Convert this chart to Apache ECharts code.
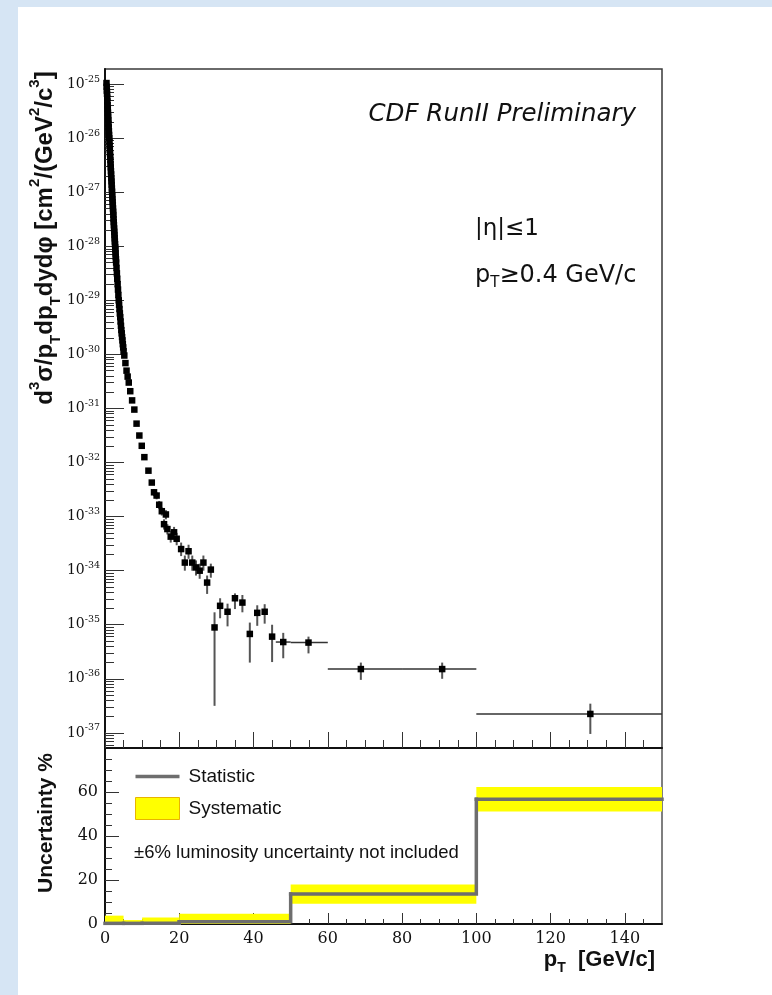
<!DOCTYPE html>
<html>
<head>
<meta charset="utf-8">
<script src="https://cdn.jsdelivr.net/npm/echarts@6/dist/echarts.min.js"></script>
<style>
  html, body { margin: 0; padding: 0; background: #d6e5f4; }
  #sheet { position: absolute; left: 18px; top: 7px; right: 0; bottom: 0; background: #ffffff; }
  #chart { position: absolute; left: 0; top: 0; width: 772px; height: 995px; }
</style>
</head>
<body>
<div id="sheet"></div>
<div id="chart"></div>
<script>
// ---- Invariant cross section, |eta| <= 1 : dense low-pT points (log10 of cm^2/(GeV^2/c^3)) ----
const lowPt = [
  0.40, 0.45, 0.50, 0.55, 0.60, 0.65, 0.70, 0.75, 0.80, 0.85, 0.90, 0.95,
  1.00, 1.05, 1.10, 1.15, 1.20, 1.25, 1.30, 1.35, 1.40, 1.45, 1.50, 1.55,
  1.60, 1.65, 1.70, 1.75, 1.80, 1.85, 1.90, 1.95, 2.00, 2.05, 2.10, 2.15,
  2.20, 2.25, 2.30, 2.35, 2.40, 2.45, 2.50, 2.55, 2.60, 2.65, 2.70, 2.75,
  2.80, 2.85, 2.90, 2.95, 3.00,
  3.1, 3.2, 3.3, 3.4, 3.5, 3.6, 3.7, 3.8, 3.9, 4.0,
  4.1, 4.2, 4.3, 4.4, 4.5, 4.6, 4.7, 4.8, 4.9, 5.0,
  5.2, 5.5, 5.8, 6.1, 6.4, 6.8, 7.3, 7.9, 8.5, 9.25, 9.9, 10.6, 11.7, 12.6
];
const lowPtLogXsec = [
  -24.98, -25.05, -25.12, -25.18, -25.25, -25.32, -25.39, -25.46, -25.53, -25.60, -25.66, -25.73,
  -25.80, -25.87, -25.94, -26.00, -26.07, -26.14, -26.21, -26.28, -26.34, -26.41, -26.48, -26.54,
  -26.61, -26.67, -26.74, -26.80, -26.86, -26.93, -26.99, -27.06, -27.12, -27.18, -27.24, -27.30,
  -27.36, -27.42, -27.49, -27.55, -27.61, -27.67, -27.73, -27.79, -27.85, -27.91, -27.96, -28.02,
  -28.07, -28.13, -28.19, -28.24, -28.30,
  -28.40, -28.50, -28.60, -28.70, -28.80, -28.90, -29.00, -29.08, -29.16, -29.24,
  -29.31, -29.39, -29.47, -29.55, -29.61, -29.68, -29.74, -29.81, -29.87, -29.94,
  -30.02, -30.16, -30.30, -30.41, -30.52, -30.68, -30.85, -31.02, -31.28, -31.50, -31.69, -31.90, -32.15, -32.37
];

// ---- Higher-pT points with statistical error bars ----
const highPt = [
  13.2, 13.9, 14.6, 15.3, 15.9, 16.4, 16.8, 17.7, 18.6, 19.3,
  20.5, 21.5, 22.5, 23.5, 24.5, 25.5, 26.5, 27.5, 28.5, 29.5,
  31, 33, 35, 37, 39, 41, 43, 45,
  48, 54.8, 68.9, 90.8, 130.7
];
const highPtLogXsec = [
  -32.55, -32.61, -32.78, -32.90, -33.14, -32.96, -33.23, -33.37, -33.29, -33.41,
  -33.60, -33.85, -33.64, -33.85, -33.94, -34.00, -33.85, -34.22, -33.98, -35.05,
  -34.65, -34.76, -34.51, -34.59, -35.17, -34.78, -34.76, -35.22,
  -35.32, -35.33, -35.82, -35.82, -36.65
];
const highPtLogErrHi = [
  -32.49, -32.55, -32.71, -32.83, -33.05, -32.88, -33.14, -33.27, -33.19, -33.30,
  -33.48, -33.72, -33.52, -33.72, -33.81, -33.87, -33.72, -34.09, -33.87, -34.77,
  -34.51, -34.61, -34.42, -34.45, -34.96, -34.64, -34.62, -35.00,
  -35.15, -35.22, -35.70, -35.70, -36.46
];
const highPtLogErrLo = [
  -32.62, -32.68, -32.86, -32.98, -33.24, -33.05, -33.33, -33.48, -33.40, -33.53,
  -33.73, -34.00, -33.78, -34.00, -34.09, -34.15, -34.00, -34.43, -34.13, -36.50,
  -34.88, -35.03, -34.71, -34.77, -35.70, -35.02, -34.98, -35.69,
  -35.62, -35.53, -36.02, -36.00, -37.02
];
const highPtBinLo = [
  null, null, null, null, null, null, null, null, null, null,
  null, null, null, null, null, null, null, null, null, null,
  null, null, null, null, null, null, null, null,
  46, 50, 60, 80, 100
];
const highPtBinHi = [
  null, null, null, null, null, null, null, null, null, null,
  null, null, null, null, null, null, null, null, null, null,
  null, null, null, null, null, null, null, null,
  50, 60, 80, 100, 150
];

// ---- Uncertainty panel (percent) ----
const uncBinEdges = [0, 5, 10, 20, 50, 100, 150];
const statUnc = [0.3, 0.3, 0.3, 1.0, 13.6, 56.7];
const sysUnc  = [3.5, 1.5, 2.6, 3.7, 4.4, 5.6];

// ---- Tick definitions ----
const ptMajorTicks = [0, 20, 40, 60, 80, 100, 120, 140];
const ptMinorTicks = [5, 10, 15, 25, 30, 35, 45, 50, 55, 65, 70, 75, 85, 90, 95,
                      105, 110, 115, 125, 130, 135, 145];
const xsecDecades = [-37, -36, -35, -34, -33, -32, -31, -30, -29, -28, -27, -26, -25];
const uncMajorTicks = [0, 20, 40, 60];
const uncMinorTicks = [5, 10, 15, 25, 30, 35, 45, 50, 55, 65, 70, 75];

const LOG_MIN = -37.28, LOG_MAX = -24.72;

// sub-decade ticks at 2..9 x 10^n
const xsecMinorTicks = [];
for (let n = -38; n <= -25; n++) {
  for (let k = 2; k <= 9; k++) {
    const v = n + Math.log10(k);
    if (v > LOG_MIN && v < LOG_MAX) xsecMinorTicks.push(v);
  }
}

const pointData = lowPt.map((p, i) => [p, lowPtLogXsec[i]])
  .concat(highPt.map((p, i) => [p, highPtLogXsec[i]]));
const errData = highPt.map((p, i) => [
  p, highPtLogXsec[i], highPtLogErrLo[i], highPtLogErrHi[i],
  highPtBinLo[i] === null ? '-' : highPtBinLo[i],
  highPtBinHi[i] === null ? '-' : highPtBinHi[i]
]);
const sysData = statUnc.map((s, i) => [uncBinEdges[i], uncBinEdges[i + 1], s, sysUnc[i]]);
const statData = statUnc.map((s, i) => [
  uncBinEdges[i], uncBinEdges[i + 1], s, i + 1 < statUnc.length ? statUnc[i + 1] : s
]);

const INK = '#111';
const STAT_GREY = '#6e6e6e';
const TICK = { color: '#333', width: 1 };
const serif = 'DejaVu Serif';
const sans = 'Liberation Sans';

function tickAxis(opts) {
  return Object.assign({
    type: 'value',
    splitLine: { show: false },
    axisLine: { show: false },
    axisLabel: { show: false },
    axisTick: { show: false }
  }, opts);
}

const chart = echarts.init(document.getElementById('chart'), null, { width: 772, height: 995 });

chart.setOption({
  animation: false,
  backgroundColor: 'transparent',
  grid: [
    { left: 105, top: 69, width: 557, height: 679, show: true, borderColor: '#3a3a3a', borderWidth: 1.5, backgroundColor: 'transparent' },
    { left: 105, top: 748, width: 557, height: 176, show: true, borderColor: '#555', borderWidth: 1.5, backgroundColor: 'transparent' }
  ],
  xAxis: [
    tickAxis({ gridIndex: 0, position: 'bottom', min: 0, max: 150,
      axisLine: { show: true, onZero: false, lineStyle: { color: INK, width: 2 } },
      axisTick: { show: true, inside: true, length: 16, customValues: ptMajorTicks, lineStyle: TICK } }),
    tickAxis({ gridIndex: 0, position: 'bottom', min: 0, max: 150,
      axisTick: { show: true, inside: true, length: 8, customValues: ptMinorTicks, lineStyle: TICK } }),
    tickAxis({ gridIndex: 1, position: 'bottom', min: 0, max: 150,
      axisLine: { show: true, onZero: false, lineStyle: { color: INK, width: 2 } },
      axisTick: { show: true, inside: true, length: 11, customValues: ptMajorTicks, lineStyle: TICK },
      axisLabel: { show: true, customValues: ptMajorTicks, margin: 7, fontFamily: serif, fontSize: 16, color: INK } }),
    tickAxis({ gridIndex: 1, position: 'bottom', min: 0, max: 150,
      axisTick: { show: true, inside: true, length: 5, customValues: ptMinorTicks, lineStyle: TICK } })
  ],
  yAxis: [
    tickAxis({ gridIndex: 0, position: 'left', min: LOG_MIN, max: LOG_MAX,
      axisLine: { show: true, onZero: false, lineStyle: { color: INK, width: 2 } },
      axisTick: { show: true, inside: true, length: 19, customValues: xsecDecades, lineStyle: TICK },
      axisLabel: { show: true, customValues: xsecDecades, margin: 5,
        formatter: v => '{b|10}{e|' + Math.round(v) + '}',
        rich: {
          b: { fontFamily: serif, fontSize: 14, color: INK, lineHeight: 20, verticalAlign: 'middle' },
          e: { fontFamily: serif, fontSize: 9.5, color: INK, lineHeight: 10, verticalAlign: 'top' }
        } } }),
    tickAxis({ gridIndex: 0, position: 'left', min: LOG_MIN, max: LOG_MAX,
      axisTick: { show: true, inside: true, length: 9, customValues: xsecMinorTicks, lineStyle: TICK } }),
    tickAxis({ gridIndex: 1, position: 'left', min: 0, max: 80,
      axisLine: { show: true, onZero: false, lineStyle: { color: INK, width: 2 } },
      axisTick: { show: true, inside: true, length: 14, customValues: uncMajorTicks, lineStyle: TICK },
      axisLabel: { show: true, customValues: uncMajorTicks, margin: 7, fontFamily: serif, fontSize: 16, color: INK } }),
    tickAxis({ gridIndex: 1, position: 'left', min: 0, max: 80,
      axisTick: { show: true, inside: true, length: 7, customValues: uncMinorTicks, lineStyle: TICK } })
  ],
  legend: {
    orient: 'vertical', left: 135, top: 767, padding: 0,
    itemWidth: 44, itemHeight: 22, itemGap: 11,
    selectedMode: false,
    textStyle: { fontFamily: sans, fontSize: 19, color: INK, padding: [0, 0, 0, 4] },
    data: [
      { name: 'Statistic', icon: 'path://M0,0H44V3.5H0Z', itemStyle: { color: STAT_GREY } },
      { name: 'Systematic', icon: 'rect', itemStyle: { color: '#ffff00', borderColor: '#e8b400', borderWidth: 1 } }
    ]
  },
  series: [
    {
      type: 'custom', name: 'stat errors', xAxisIndex: 0, yAxisIndex: 0,
      data: errData, silent: true, z: 2,
      renderItem: (params, api) => {
        const x = api.value(0), y = api.value(1);
        const top = api.coord([x, api.value(3)]);
        const bot = api.coord([x, api.value(2)]);
        const kids = [{ type: 'line', shape: { x1: top[0], y1: top[1], x2: bot[0], y2: bot[1] },
                        style: { stroke: '#555', lineWidth: 2 } }];
        const b0 = api.value(4), b1 = api.value(5);
        if (!isNaN(b0) && !isNaN(b1)) {
          const a = api.coord([b0, y]), b = api.coord([b1, y]);
          kids.push({ type: 'line', shape: { x1: a[0], y1: a[1], x2: b[0], y2: b[1] },
                      style: { stroke: '#333', lineWidth: 1.5 } });
        }
        return { type: 'group', children: kids };
      }
    },
    {
      type: 'scatter', name: 'cross section', xAxisIndex: 0, yAxisIndex: 0,
      data: pointData, symbol: 'rect', symbolSize: 6.5, z: 3,
      itemStyle: { color: '#000', opacity: 1 }, silent: true
    },
    {
      type: 'custom', name: 'Systematic', xAxisIndex: 2, yAxisIndex: 2,
      data: sysData, silent: true, z: 2,
      itemStyle: { color: '#ffff00' },
      renderItem: (params, api) => {
        const s = api.value(2), d = api.value(3);
        const p0 = api.coord([api.value(0), s + d]);
        const p1 = api.coord([api.value(1), s - d]);
        const rect = echarts.graphic.clipRectByRect(
          { x: p0[0], y: p0[1], width: p1[0] - p0[0], height: p1[1] - p0[1] },
          params.coordSys);
        return rect && { type: 'rect', shape: rect, style: { fill: '#ffff00' } };
      }
    },
    {
      type: 'custom', name: 'Statistic', xAxisIndex: 2, yAxisIndex: 2,
      data: statData, silent: true, z: 3,
      itemStyle: { color: STAT_GREY },
      renderItem: (params, api) => {
        const a = api.coord([api.value(0), api.value(2)]);
        const b = api.coord([api.value(1), api.value(2)]);
        const c = api.coord([api.value(1), api.value(3)]);
        return { type: 'polyline', shape: { points: [a, b, c] },
                 style: { stroke: STAT_GREY, lineWidth: 3.5, fill: null, lineCap: 'square', lineJoin: 'miter' } };
      }
    }
  ],
  graphic: [
    {
      type: 'text', x: 45, y: 238, rotation: Math.PI / 2,
      style: {
        text: '{b|d}{p|3}{b|σ/p}{s|T}{b|dp}{s|T}{b|dydφ [cm}{p|2}{b|/(GeV}{p|2}{b|/c}{p|3}{b|]}',
        align: 'center', verticalAlign: 'middle',
        rich: {
          b: { fontFamily: sans, fontWeight: 'bold', fontSize: 24, fill: INK, lineHeight: 36, verticalAlign: 'middle' },
          p: { fontFamily: sans, fontWeight: 'bold', fontSize: 15, fill: INK, lineHeight: 17, verticalAlign: 'top' },
          s: { fontFamily: sans, fontWeight: 'bold', fontSize: 15, fill: INK, lineHeight: 20, verticalAlign: 'bottom' }
        }
      }
    },
    {
      type: 'text', x: 46, y: 823, rotation: Math.PI / 2,
      style: { text: 'Uncertainty %', align: 'center', verticalAlign: 'middle',
               font: 'bold 21px "Liberation Sans"', fill: INK }
    },
    {
      type: 'text', x: 655, y: 960,
      style: {
        text: '{b|p}{s|T}{b|  [GeV/c]}', align: 'right', verticalAlign: 'middle',
        rich: {
          b: { fontFamily: sans, fontWeight: 'bold', fontSize: 22, fill: INK, lineHeight: 30, verticalAlign: 'middle' },
          s: { fontFamily: sans, fontWeight: 'bold', fontSize: 14, fill: INK, lineHeight: 17, verticalAlign: 'bottom' }
        }
      }
    },
    {
      type: 'text', x: 636, y: 115,
      style: { text: 'CDF RunII Preliminary', align: 'right', verticalAlign: 'middle',
               font: 'italic 24.5px "DejaVu Sans"', fill: INK }
    },
    {
      type: 'text', x: 475, y: 229,
      style: { text: '|η|≤1', align: 'left', verticalAlign: 'middle',
               font: '23px "DejaVu Sans"', fill: INK }
    },
    {
      type: 'text', x: 475, y: 276,
      style: {
        text: '{b|p}{s|T}{b|≥0.4 GeV/c}', align: 'left', verticalAlign: 'middle',
        rich: {
          b: { fontFamily: 'DejaVu Sans', fontSize: 24, fill: INK, lineHeight: 30, verticalAlign: 'middle' },
          s: { fontFamily: 'DejaVu Sans', fontSize: 15, fill: INK, lineHeight: 18, verticalAlign: 'bottom' }
        }
      }
    },
    {
      type: 'text', x: 134, y: 853,
      style: { text: '±6% luminosity uncertainty not included', align: 'left', verticalAlign: 'middle',
               font: '18.5px "Liberation Sans"', fill: INK }
    }
  ]
});
</script>
</body>
</html>
